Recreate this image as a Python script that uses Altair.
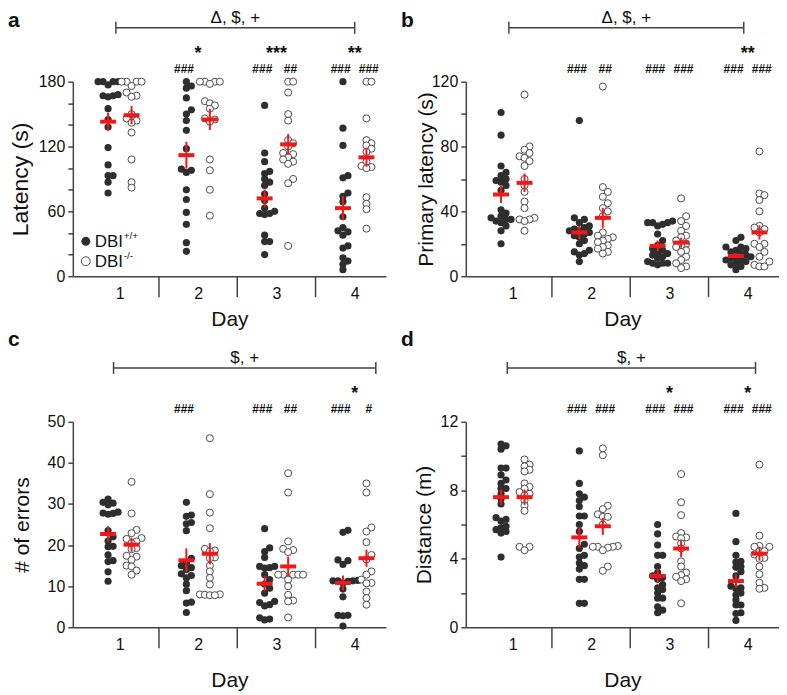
import altair as alt
import pandas as pd

DAYS = [1, 2, 3, 4]

# ---------------- data ----------------
# a: Latency (s)
LAT_WT = [
    [180, 180, 180, 180, 177, 168, 167, 167, 166, 155, 145, 138, 119, 103, 93, 93, 87, 77],
    [180, 176, 174, 165, 154, 150, 144, 135, 118, 99, 98, 96, 80, 71, 59, 48, 31, 23],
    [158, 114, 106, 97, 95, 90, 87, 84, 76, 70, 63, 60, 58, 58, 57, 38, 32, 32, 20],
    [180, 137, 121, 93, 91, 77, 74, 69, 55, 45, 42, 41, 38, 28, 26, 17, 14, 11, 6],
]
LAT_KO = [
    [180, 180, 180, 180, 176, 170, 167, 166, 150, 146, 144, 142, 133, 108, 87, 82],
    [180, 180, 180, 180, 178, 162, 160, 158, 155, 146, 145, 143, 108, 98, 80, 56],
    [180, 180, 170, 150, 144, 126, 123, 120, 114, 113, 110, 108, 106, 104, 90, 86, 28],
    [180, 180, 146, 126, 123, 121, 118, 115, 106, 102, 101, 100, 73, 67, 62, 44],
]
LAT_MEAN_WT = [143, 112, 72, 63]
LAT_SEM_WT = [8.4, 12.4, 8.2, 11.1]
LAT_MEAN_KO = [149, 145, 122, 110]
LAT_SEM_KO = [8.5, 9.7, 9.6, 8.8]

# b: Primary latency (s)
PRIM_WT = [
    [101, 87, 68, 64, 62, 60, 59, 58, 56, 53, 41, 39, 37, 36, 35, 35, 34, 33, 31, 28, 20],
    [96, 36, 35, 33, 31, 30, 29, 28, 28, 27, 26, 25, 24, 22, 20, 16, 15, 14, 13, 9],
    [34, 33, 33, 33, 32, 31, 26, 22, 19, 17, 16, 15, 14, 13, 12, 11, 9, 8, 8, 8, 7],
    [24, 22, 18, 18, 17, 16, 15, 14, 13, 12, 12, 11, 10, 10, 9, 8, 7, 6, 4],
]
PRIM_KO = [
    [112, 80, 78, 76, 74, 73, 71, 68, 60, 56, 52, 46, 42, 36, 35, 35, 34, 28],
    [117, 55, 52, 49, 45, 42, 40, 37, 27, 25, 24, 23, 22, 21, 19, 18, 17, 15, 14],
    [48, 37, 34, 31, 28, 25, 24, 22, 20, 19, 18, 16, 15, 12, 10, 8, 6, 5],
    [77, 51, 50, 47, 40, 31, 30, 29, 27, 20, 20, 18, 15, 12, 9, 7, 6, 6],
]
PRIM_MEAN_WT = [50.4, 27, 18.7, 12.5]
PRIM_SEM_WT = [5.2, 4.2, 3.3, 1.3]
PRIM_MEAN_KO = [57.6, 36, 20.7, 27]
PRIM_SEM_KO = [5.7, 6.2, 3.1, 4.4]

# c: # of errors
ERR_WT = [
    [31.2, 30.4, 30.2, 29.8, 28, 27.8, 27.7, 27.5, 23.5, 22, 21, 19.7, 19.6, 17.6, 16.2, 16, 13.5, 11.2],
    [30.4, 27.3, 27, 25.5, 25.2, 23.5, 16.8, 15.6, 15, 14.5, 14, 13, 12.6, 12, 10.5, 8.9, 6.1, 5.9, 3.6],
    [24, 19.3, 18.4, 17, 14.8, 14.8, 14.5, 14.4, 12.8, 11.6, 10.5, 9.5, 8.3, 6.3, 6, 5.5, 5.2, 2.3, 2, 1.8],
    [23.6, 23.1, 16.4, 16.2, 15.3, 11.4, 11.3, 11.3, 11.3, 11.2, 10.8, 9.3, 7.4, 2.9, 2.9, 2.8, 0.3],
]
ERR_KO = [
    [35.4, 27.7, 23.7, 22.9, 21.7, 21.5, 20.9, 20.5, 19.3, 19, 17.4, 17.2, 16.4, 15, 14.8, 13.8, 12.8],
    [46, 32.4, 27.9, 24.1, 19.1, 18.7, 18.5, 17, 16.8, 15, 13.6, 12, 10.4, 8, 8, 7.9, 7.8, 7.8],
    [37.5, 32.8, 20.9, 19.1, 18.8, 18.3, 12.8, 12.8, 12.8, 12.8, 12.8, 11.6, 10, 7.9, 6.5, 6.3, 2.4],
    [35, 32.8, 24.3, 23.3, 20.7, 17.6, 16.5, 13.6, 12.8, 11.6, 10.8, 10.7, 8.7, 7.1, 5.5],
]
ERR_MEAN_WT = [22.7, 16.3, 10.6, 10.8]
ERR_SEM_WT = [1.9, 2.9, 1.8, 1.8]
ERR_MEAN_KO = [20.1, 17.9, 14.8, 16.8]
ERR_SEM_KO = [1.7, 2.6, 2.4, 2.1]

# d: Distance (m)
DIST_WT = [
    [10.7, 10.6, 10.4, 9.3, 9.3, 8.9, 8.6, 8.4, 8.1, 8.1, 7.8, 7.5, 7.2, 6.4, 6.3, 6.2, 5.9, 5.8, 5.7, 5.6, 5.5, 4.1],
    [10.3, 8.4, 7.8, 7.6, 7.4, 7.05, 6.5, 6.5, 6.0, 5.6, 4.85, 4.6, 4.2, 4.1, 3.75, 3.6, 3.4, 2.8, 2.8, 1.4, 1.4],
    [6.0, 5.45, 4.8, 4.2, 4.2, 3.55, 3.2, 3.0, 2.9, 2.8, 2.5, 2.3, 2.2, 2.0, 1.7, 1.7, 1.2, 1.0, 0.85],
    [6.65, 5.0, 4.2, 3.85, 3.8, 3.55, 3.5, 3.25, 3.0, 2.4, 2.3, 2.25, 2.0, 1.9, 1.6, 1.3, 1.3, 0.85, 0.8, 0.4],
]
DIST_KO = [
    [9.8, 9.5, 9.4, 9.2, 9.1, 8.4, 8.2, 8.1, 7.9, 7.8, 7.7, 7.4, 7.1, 6.8, 4.7, 4.7, 4.5],
    [10.45, 10.05, 7.1, 6.9, 6.6, 6.45, 6.45, 6.0, 4.75, 4.7, 4.7, 4.7, 4.65, 4.5, 3.55, 3.3],
    [8.95, 7.3, 6.55, 5.5, 5.3, 5.25, 5.2, 4.9, 4.6, 3.85, 3.55, 3.2, 3.05, 2.95, 2.8, 2.7, 1.4],
    [9.5, 5.35, 4.75, 4.7, 4.7, 4.45, 4.45, 4.25, 4.05, 4.0, 3.55, 3.1, 2.6, 2.3, 2.25],
]
DIST_MEAN_WT = [7.6, 5.25, 3.0, 2.7]
DIST_SEM_WT = [0.45, 0.6, 0.43, 0.39]
DIST_MEAN_KO = [7.6, 5.9, 4.6, 4.3]
DIST_SEM_KO = [0.45, 0.5, 0.49, 0.41]

# significance annotations
SIG_WT = {"a": ["", "###", "###", "###"], "b": ["", "###", "###", "###"],
          "c": ["", "###", "###", "###"], "d": ["", "###", "###", "###"]}
SIG_KO = {"a": ["", "", "##", "###"], "b": ["", "##", "###", "###"],
          "c": ["", "", "##", "#"], "d": ["", "###", "###", "###"]}
SIG_STAR = {"a": ["", "*", "***", "**"], "b": ["", "", "", "**"],
            "c": ["", "", "", "*"], "d": ["", "", "*", "*"]}
BRACKET_TEXT = {"a": "Δ, $, +", "b": "Δ, $, +", "c": "$, +", "d": "$, +"}
BRACKET_SPAN = {"a": (0.95, 4.0), "b": (0.95, 3.95), "c": (0.92, 4.27), "d": (0.93, 4.1)}

# ---------------- styling / layout ----------------
W = 314
H_TOP = 195
H_BOT = 206
X_DOMAIN = [0.4, 4.4]
PX_PER_X = W / (X_DOMAIN[1] - X_DOMAIN[0])
COL_OFFSET = {"wt": -0.15, "ko": 0.15}
RED = "#f01818"
AXC = "#444444"
TXT = "#111111"
WT_COLOR = "#2e2e2e"
KO_STROKE = "#4a4a4a"
FONT = "Liberation Sans"


def swarm(vals, px_per_unit, step=5.0, mind=5.0):
    order = sorted(range(len(vals)), key=lambda i: vals[i])
    cands = [0]
    for k in range(1, 30):
        cands += [k, -k]
    placed, offs = [], [0.0] * len(vals)
    for i in order:
        y = vals[i] * px_per_unit
        x = 0.0
        for k in cands:
            x = k * step
            if all((x - px) ** 2 + (y - py) ** 2 >= mind ** 2 - 1e-9 for px, py in placed):
                break
        placed.append((x, y))
        offs[i] = x
    return offs


def panel(key, wt, ko, mwt, swt, mko, sko, ymax, ystep, ylabstep, ytitle, H,
          title_x, title_size, day_title_y, letter_y, legend=False):
    xaxis = alt.Axis(values=DAYS, ticks=False, tickSize=0, labelPadding=9, labelFontSize=16,
                     labelColor=TXT, labelAngle=0, domainColor=AXC, domainWidth=1.5,
                     title="Day", titleFontSize=21, titleFontWeight="normal", titleColor=TXT,
                     titleY=day_title_y, grid=False)
    yaxis = alt.Axis(values=list(range(0, ymax + 1, ystep)),
                     labelExpr=f"datum.value % {ylabstep} === 0 ? datum.label : ''",
                     tickSize=5, tickColor=AXC, tickWidth=1.5, domainColor=AXC, domainWidth=1.5,
                     labelFontSize=16, labelColor=TXT, labelPadding=3,
                     title=ytitle, titleFontSize=title_size, titleFontWeight="normal",
                     titleColor=TXT, titleX=title_x, grid=False)
    xscale = alt.Scale(domain=X_DOMAIN, nice=False, zero=False)
    yscale = alt.Scale(domain=[0, ymax], nice=False)

    def xenc(field):
        return alt.X(f"{field}:Q", scale=xscale, axis=xaxis)

    def yenc(field):
        return alt.Y(f"{field}:Q", scale=yscale, axis=yaxis)

    rows = []
    for g, groups in (("wt", wt), ("ko", ko)):
        for d, vals in zip(DAYS, groups):
            offs = swarm(vals, H / ymax)
            for v, o in zip(vals, offs):
                rows.append({"g": g, "x": d + COL_OFFSET[g] + o / PX_PER_X, "v": v})
    pts = pd.DataFrame(rows)

    stats = []
    for g, means, sems in (("wt", mwt, swt), ("ko", mko, sko)):
        for d, m, s in zip(DAYS, means, sems):
            stats.append({"x": d + COL_OFFSET[g], "m": m, "lo": m - s, "hi": m + s})
    stats = pd.DataFrame(stats)

    sig = []
    for i, d in enumerate(DAYS):
        sig.append({"x": d - 0.18, "t": SIG_WT[key][i], "k": "hash"})
        sig.append({"x": d + 0.18, "t": SIG_KO[key][i], "k": "hash"})
        sig.append({"x": d, "t": SIG_STAR[key][i], "k": "star"})
    sig = pd.DataFrame(sig)

    seps = pd.DataFrame({"s": [(a + b) / 2 for a, b in zip(DAYS[:-1], DAYS[1:])]})
    x1, x2 = BRACKET_SPAN[key]
    br = pd.DataFrame({"x1": [x1], "x2": [x2], "xm": [(x1 + x2) / 2], "t": [BRACKET_TEXT[key]]})
    caps = pd.DataFrame({"x": [x1, x2]})
    one = pd.DataFrame({"k": [0]})

    wt_layer = alt.Chart(pts).transform_filter("datum.g === 'wt'").mark_point(
        filled=True, size=52, color=WT_COLOR, opacity=1
    ).encode(x=xenc("x"), y=yenc("v"))
    ko_layer = alt.Chart(pts).transform_filter("datum.g === 'ko'").mark_point(
        filled=True, size=50, fill="white", stroke=KO_STROKE, strokeWidth=1, opacity=1
    ).encode(x=xenc("x"), y=yenc("v"))
    sem = alt.Chart(stats).mark_rule(color=RED, strokeWidth=2).encode(
        x=xenc("x"), y=yenc("lo"), y2="hi:Q")
    mean = alt.Chart(stats).mark_tick(orient="horizontal", color=RED, thickness=4, size=16,
                                      opacity=1).encode(x=xenc("x"), y=yenc("m"))
    sep = alt.Chart(seps).mark_rule(color=AXC, strokeWidth=1.5).encode(
        x=xenc("s"), y=alt.value(H), y2=alt.value(H + 21))
    hashes = alt.Chart(sig).transform_filter("datum.k === 'hash'").mark_text(
        fontSize=12, fontWeight="bold", color=TXT, baseline="alphabetic"
    ).encode(x=xenc("x"), y=alt.value(-9), text="t:N")
    stars = alt.Chart(sig).transform_filter("datum.k === 'star'").mark_text(
        fontSize=18, fontWeight="bold", color=TXT, baseline="alphabetic"
    ).encode(x=xenc("x"), y=alt.value(-23), text="t:N")
    bline = alt.Chart(br).mark_rule(color=AXC, strokeWidth=1.5).encode(
        x=xenc("x1"), x2="x2:Q", y=alt.value(-54))
    bcaps = alt.Chart(caps).mark_rule(color=AXC, strokeWidth=1.5).encode(
        x=xenc("x"), y=alt.value(-60), y2=alt.value(-48))
    btext = alt.Chart(br).mark_text(fontSize=17, color=TXT, baseline="alphabetic").encode(
        x=xenc("xm"), y=alt.value(-59), text="t:N")
    letter = alt.Chart(one).mark_text(
        text=key, fontSize=21, fontWeight="bold", color=TXT, align="left", baseline="alphabetic"
    ).encode(x=alt.value(-65), y=alt.value(letter_y))

    layers = [wt_layer, ko_layer, sep, sem, mean, hashes, stars, bline, bcaps, btext, letter]

    if legend:
        leg_wt = alt.Chart(one).mark_point(filled=True, size=80, color=WT_COLOR, opacity=1).encode(
            x=alt.value(13), y=alt.value(160))
        leg_ko = alt.Chart(one).mark_point(filled=True, size=80, fill="white", stroke=KO_STROKE,
                                           strokeWidth=1, opacity=1).encode(
            x=alt.value(13), y=alt.value(180))
        t1 = alt.Chart(one).mark_text(text="DBI", fontSize=17, color=TXT, align="left",
                                      baseline="alphabetic").encode(x=alt.value(22), y=alt.value(166))
        t2 = alt.Chart(one).mark_text(text="DBI", fontSize=17, color=TXT, align="left",
                                      baseline="alphabetic").encode(x=alt.value(22), y=alt.value(186))
        s1 = alt.Chart(one).mark_text(text="+/+", fontSize=10, color=TXT, align="left",
                                      baseline="alphabetic").encode(x=alt.value(51), y=alt.value(158))
        s2 = alt.Chart(one).mark_text(text="-/-", fontSize=10, color=TXT, align="left",
                                      baseline="alphabetic").encode(x=alt.value(51), y=alt.value(178))
        layers += [leg_wt, leg_ko, t1, t2, s1, s2]

    return alt.layer(*layers).properties(width=W, height=H)


pa = panel("a", LAT_WT, LAT_KO, LAT_MEAN_WT, LAT_SEM_WT, LAT_MEAN_KO, LAT_SEM_KO,
           180, 20, 60, "Latency (s)", H_TOP, -40, 23, 32, -55, legend=True)
pb = panel("b", PRIM_WT, PRIM_KO, PRIM_MEAN_WT, PRIM_SEM_WT, PRIM_MEAN_KO, PRIM_SEM_KO,
           120, 20, 40, "Primary latency (s)", H_TOP, -29, 21, 32, -55)
pc = panel("c", ERR_WT, ERR_KO, ERR_MEAN_WT, ERR_SEM_WT, ERR_MEAN_KO, ERR_SEM_KO,
           50, 10, 10, "# of errors", H_BOT, -40, 21, 42, -76)
pd_ = panel("d", DIST_WT, DIST_KO, DIST_MEAN_WT, DIST_SEM_WT, DIST_MEAN_KO, DIST_SEM_KO,
            12, 2, 4, "Distance (m)", H_BOT, -31, 21, 42, -76)

chart = alt.concat(
    pa, pb, pc, pd_, columns=2, spacing={"row": 146, "column": 80}, bounds="flush"
).properties(padding=0).configure(font=FONT).configure_view(stroke=None)

chart.save("out.html", embed_options={"renderer": "svg", "actions": False})
